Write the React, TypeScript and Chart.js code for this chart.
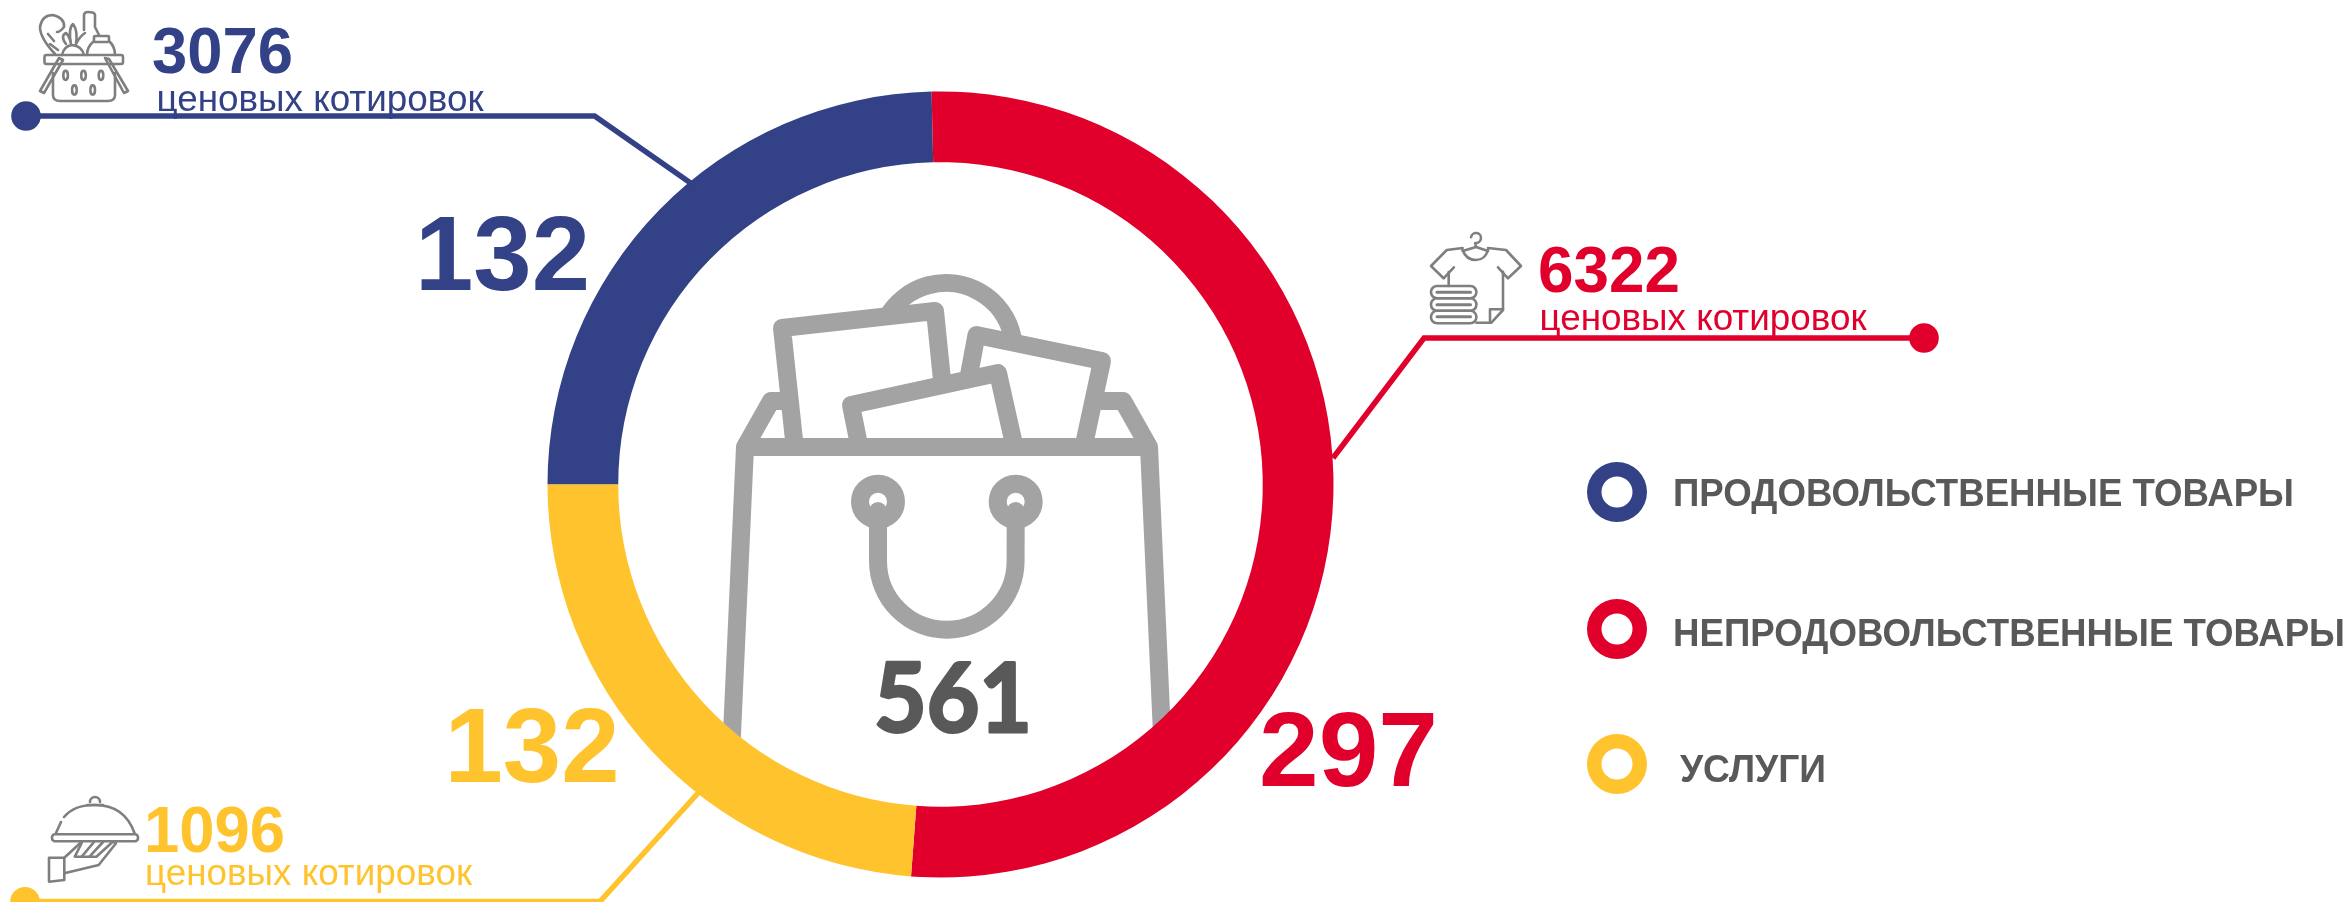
import React, { useEffect, useRef } from "react";
import { Chart, registerables } from "chart.js";

Chart.register(...registerables);

// ---- data ----
const categories = ["ПРОДОВОЛЬСТВЕННЫЕ ТОВАРЫ", "НЕПРОДОВОЛЬСТВЕННЫЕ ТОВАРЫ", "УСЛУГИ"];
const arcDegrees = [88.7, 185.6, 85.7]; // span of each ring segment as drawn in the picture
const outletCounts = ["132", "297", "132"];
const quoteCounts = ["3076", "6322", "1096"];
const quoteUnit = "ценовых котировок";
const totalLabel = "561";
const seriesColors = ["#334287", "#E1002C", "#FFC32E"];

const GREY_TEXT = "#595959";
const BAG = "#A3A3A3";
const ICON = "#7F7F7F";
const ARIAL = '"Liberation Sans", Arial, sans-serif';

type Ctx = CanvasRenderingContext2D;
type P = [number, number];

function poly(ctx: Ctx, pts: P[], close = false) {
  ctx.beginPath();
  pts.forEach((p, i) => (i ? ctx.lineTo(p[0], p[1]) : ctx.moveTo(p[0], p[1])));
  if (close) ctx.closePath();
  ctx.stroke();
}
function rrect(ctx: Ctx, x: number, y: number, w: number, h: number, r: number) {
  ctx.beginPath();
  ctx.roundRect(x, y, w, h, r);
  ctx.stroke();
}
function oval(ctx: Ctx, x: number, y: number, rx: number, ry: number) {
  ctx.beginPath();
  ctx.ellipse(x, y, rx, ry, 0, 0, Math.PI * 2);
  ctx.stroke();
}
function text(ctx: Ctx, s: string, x: number, y: number, font: string, color: string, width: number, embolden = 0) {
  ctx.font = font;
  ctx.fillStyle = color;
  ctx.textAlign = "left";
  ctx.textBaseline = "alphabetic";
  const natural = ctx.measureText(s).width;
  ctx.save();
  ctx.translate(x, y);
  ctx.scale(width / natural, 1);
  ctx.fillText(s, 0, 0);
  if (embolden) {
    ctx.strokeStyle = color;
    ctx.lineWidth = embolden;
    ctx.lineJoin = "round";
    ctx.strokeText(s, 0, 0);
  }
  ctx.restore();
}

function drawBag(ctx: Ctx) {
  ctx.save();
  ctx.beginPath();
  ctx.arc(940.5, 484.5, 330, 0, Math.PI * 2);
  ctx.clip();
  ctx.strokeStyle = BAG;
  ctx.lineWidth = 18;
  ctx.lineJoin = "round";
  ctx.lineCap = "butt";
  // ball behind the papers
  ctx.beginPath();
  ctx.arc(946, 351, 68, (-150 * Math.PI) / 180, (-12 * Math.PI) / 180);
  ctx.stroke();
  // papers
  poly(ctx, [[794, 440], [782, 328], [935, 311], [942, 380]]);
  poly(ctx, [[969, 375], [976.5, 335], [1102, 361], [1085, 440]]);
  poly(ctx, [[858, 440], [851, 405], [998, 373], [1013, 440]]);
  // flaps
  poly(ctx, [[745, 447], [771, 401], [785, 401]]);
  poly(ctx, [[1149, 447], [1123, 401], [1101, 401]]);
  // bag body
  ctx.lineCap = "round";
  poly(ctx, [[745, 447], [1149, 447]]);
  ctx.lineCap = "butt";
  poly(ctx, [[745, 447], [729, 800]]);
  poly(ctx, [[1149, 447], [1165, 800]]);
  // eyelets
  ctx.lineWidth = 18;
  oval(ctx, 878, 501.7, 18, 18);
  oval(ctx, 1015.7, 501.7, 18, 18);
  // strap
  ctx.lineCap = "round";
  ctx.beginPath();
  ctx.moveTo(878, 511);
  ctx.lineTo(878, 561);
  ctx.arc(946.8, 561, 68.8, Math.PI, 0, true);
  ctx.lineTo(1015.7, 511);
  ctx.stroke();
  ctx.restore();
}

function drawBasket(ctx: Ctx) {
  ctx.strokeStyle = ICON;
  ctx.lineWidth = 2.6;
  ctx.lineJoin = "round";
  ctx.lineCap = "round";
  rrect(ctx, 44.5, 55, 78.5, 9, 2);
  ctx.beginPath();
  ctx.moveTo(53, 73);
  ctx.lineTo(53, 95);
  ctx.quadraticCurveTo(53, 101, 60, 101);
  ctx.lineTo(108, 101);
  ctx.quadraticCurveTo(115, 101, 115, 95);
  ctx.lineTo(115, 73);
  ctx.stroke();
  poly(ctx, [[59, 58], [63, 60], [44, 93], [40, 91]], true);
  poly(ctx, [[105, 58], [109, 59], [128, 91], [124, 93]], true);
  [65.6, 83.5, 101].forEach((x) => oval(ctx, x, 75.3, 2.3, 4.6));
  [74.4, 92.7].forEach((x) => oval(ctx, x, 90, 2.3, 4.6));
  // bottle
  ctx.beginPath();
  ctx.moveTo(84, 30);
  ctx.lineTo(84, 15);
  ctx.quadraticCurveTo(84, 12, 88, 12);
  ctx.quadraticCurveTo(95, 12, 95, 15);
  ctx.lineTo(95, 27);
  ctx.lineTo(99, 35);
  ctx.stroke();
  // jar
  rrect(ctx, 94, 36, 15, 6, 1);
  ctx.beginPath();
  ctx.moveTo(93, 42);
  ctx.quadraticCurveTo(87, 47, 87, 55);
  ctx.moveTo(110, 42);
  ctx.quadraticCurveTo(115, 47, 115, 55);
  ctx.stroke();
  // bread
  ctx.beginPath();
  ctx.moveTo(55, 54);
  ctx.quadraticCurveTo(40, 38, 40, 27);
  ctx.quadraticCurveTo(42, 15, 53, 15);
  ctx.quadraticCurveTo(65, 18, 64, 27);
  ctx.quadraticCurveTo(60, 32, 57, 32);
  ctx.moveTo(48, 34);
  ctx.lineTo(54, 41);
  ctx.moveTo(50, 44);
  ctx.lineTo(58, 50);
  ctx.stroke();
  // vegetable
  ctx.beginPath();
  ctx.moveTo(62, 55);
  ctx.quadraticCurveTo(64, 46, 72, 45);
  ctx.quadraticCurveTo(82, 46, 84, 55);
  ctx.moveTo(66, 44);
  ctx.quadraticCurveTo(60, 36, 66, 33);
  ctx.quadraticCurveTo(70, 37, 71, 44);
  ctx.moveTo(71, 44);
  ctx.quadraticCurveTo(68, 28, 73, 24);
  ctx.quadraticCurveTo(78, 30, 76, 44);
  ctx.moveTo(76, 44);
  ctx.quadraticCurveTo(80, 36, 85, 33);
  ctx.stroke();
}

function drawShirt(ctx: Ctx) {
  ctx.strokeStyle = ICON;
  ctx.lineWidth = 2.6;
  ctx.lineJoin = "round";
  ctx.lineCap = "round";
  // hanger
  ctx.beginPath();
  ctx.arc(1476, 238, 5, Math.PI * 1.05, Math.PI * 0.55);
  ctx.lineTo(1476, 247);
  ctx.moveTo(1462.6, 251);
  ctx.lineTo(1476, 247);
  ctx.lineTo(1488, 251);
  ctx.stroke();
  // collar
  ctx.beginPath();
  ctx.moveTo(1462.6, 250);
  ctx.quadraticCurveTo(1466, 260, 1476, 260);
  ctx.quadraticCurveTo(1485, 260, 1488, 250);
  ctx.stroke();
  // shirt
  poly(ctx, [[1448.7, 286], [1448.7, 272]]);
  poly(ctx, [[1453.9, 267.3], [1443.6, 278.3], [1431, 266], [1446.8, 250], [1462.6, 248]]);
  poly(ctx, [[1498, 267.3], [1508, 278.3], [1521, 266], [1506, 250], [1488, 248]]);
  poly(ctx, [[1503, 271.7], [1503, 310], [1491.4, 322.7], [1476.4, 322.7]]);
  poly(ctx, [[1503, 309.3], [1490, 309.3], [1490, 322.7]]);
  // folded stack
  rrect(ctx, 1431, 286, 45.4, 12.3, 6);
  rrect(ctx, 1431, 298.3, 45.4, 12.5, 6);
  rrect(ctx, 1431, 310.8, 45.4, 12.5, 6);
  ctx.lineWidth = 3;
  poly(ctx, [[1437, 292.3], [1470.5, 292.3]]);
  poly(ctx, [[1437, 304.7], [1470.5, 304.7]]);
  poly(ctx, [[1437, 316.8], [1470.5, 316.8]]);
}

function drawCloche(ctx: Ctx) {
  ctx.strokeStyle = ICON;
  ctx.lineWidth = 2.6;
  ctx.lineJoin = "round";
  ctx.lineCap = "round";
  ctx.beginPath();
  ctx.arc(95, 802, 5, Math.PI, 0);
  ctx.stroke();
  poly(ctx, [[87.5, 805], [103, 805]]);
  ctx.beginPath();
  ctx.moveTo(56, 833);
  ctx.lineTo(61, 822);
  ctx.moveTo(64, 817);
  ctx.bezierCurveTo(70, 810, 78, 805, 95, 805);
  ctx.bezierCurveTo(115, 805, 128, 815, 134.5, 833);
  ctx.stroke();
  rrect(ctx, 52, 834.3, 86, 7, 3);
  // hand
  poly(ctx, [[49, 857.7], [64.3, 857.7], [64.3, 880], [49, 881.7]], true);
  poly(ctx, [[64.3, 857.7], [81.7, 841.7]]);
  poly(ctx, [[64.3, 873.3], [98.7, 865], [116, 843.3], [113, 841.7]]);
  poly(ctx, [[81.7, 843], [74.8, 856.7], [96.4, 856.7], [112.5, 842]]);
  poly(ctx, [[94, 842], [81.7, 856.7]]);
  poly(ctx, [[103, 842], [89.5, 856.7]]);
}

function drawLeader(ctx: Ctx, pts: P[], dot: P, color: string) {
  ctx.strokeStyle = color;
  ctx.lineWidth = 5.5;
  ctx.lineJoin = "miter";
  ctx.lineCap = "butt";
  poly(ctx, pts);
  ctx.fillStyle = color;
  ctx.beginPath();
  ctx.arc(dot[0], dot[1], 14.8, 0, Math.PI * 2);
  ctx.fill();
}

function drawRing(ctx: Ctx, x: number, y: number, color: string) {
  ctx.fillStyle = color;
  ctx.beginPath();
  ctx.arc(x, y, 30, 0, Math.PI * 2);
  ctx.arc(x, y, 15.5, 0, Math.PI * 2, true);
  ctx.fill();
}

const bagPlugin = {
  id: "bagBehindRing",
  beforeDatasetsDraw(chart: Chart) {
    drawBag(chart.ctx);
  },
};

const annotationPlugin = {
  id: "annotations",
  afterDatasetsDraw(chart: Chart) {
    const ctx = chart.ctx;
    ctx.save();
    const [blue, red, yellow] = seriesColors;
    const big = `bold 106px ${ARIAL}`;
    const mid = `bold 64px ${ARIAL}`;
    const small = `37px ${ARIAL}`;
    const legend = `bold 39px ${ARIAL}`;

    drawLeader(ctx, [[26, 116], [594.6, 116], [692, 184]], [26, 116], blue);
    drawLeader(ctx, [[1924, 338], [1424, 338], [1333, 458]], [1924, 338], red);
    drawLeader(ctx, [[25, 901.5], [600, 901.5], [699, 792]], [25, 901.7], yellow);

    drawBasket(ctx);
    drawShirt(ctx);
    drawCloche(ctx);

    text(ctx, outletCounts[0], 415, 290, big, blue, 175);
    text(ctx, outletCounts[1], 1259, 786, big, red, 179);
    text(ctx, outletCounts[2], 444.5, 782, big, yellow, 175);

    text(ctx, quoteCounts[0], 152, 73, mid, blue, 141);
    text(ctx, quoteCounts[1], 1538, 292, mid, red, 142);
    text(ctx, quoteCounts[2], 144, 852, mid, yellow, 141);

    text(ctx, quoteUnit, 156.5, 110.5, small, blue, 327);
    text(ctx, quoteUnit, 1539.5, 330, small, red, 327);
    text(ctx, quoteUnit, 145, 885, small, yellow, 327);

    text(ctx, totalLabel, 874, 732, `bold 96px Lato, ${ARIAL}`, GREY_TEXT, 158, 3);

    drawRing(ctx, 1617, 492, blue);
    drawRing(ctx, 1617, 629, red);
    drawRing(ctx, 1617, 764, yellow);
    text(ctx, categories[0], 1673, 506, legend, GREY_TEXT, 621);
    text(ctx, categories[1], 1673, 645.5, legend, GREY_TEXT, 672);
    text(ctx, categories[2], 1680, 781.5, legend, GREY_TEXT, 146);
    ctx.restore();
  },
};

export default function App() {
  const ref = useRef<HTMLCanvasElement>(null);
  useEffect(() => {
    const chart = new Chart(ref.current as HTMLCanvasElement, {
      type: "doughnut",
      data: {
        labels: categories,
        datasets: [
          {
            data: arcDegrees,
            backgroundColor: seriesColors,
            borderWidth: 0,
          },
        ],
      },
      options: {
        responsive: false,
        animation: false,
        rotation: -90,
        cutout: "82%",
        layout: { padding: { left: 547.5, right: 1017.5, top: 91.5, bottom: 24.5 } },
        plugins: { legend: { display: false }, tooltip: { enabled: false } },
      },
      plugins: [bagPlugin, annotationPlugin],
    } as any);
    return () => chart.destroy();
  }, []);
  return (
    <canvas
      ref={ref}
      width={2351}
      height={902}
      style={{ position: "absolute", left: 0, top: 0, width: 2351, height: 902, background: "#fff" }}
    />
  );
}
